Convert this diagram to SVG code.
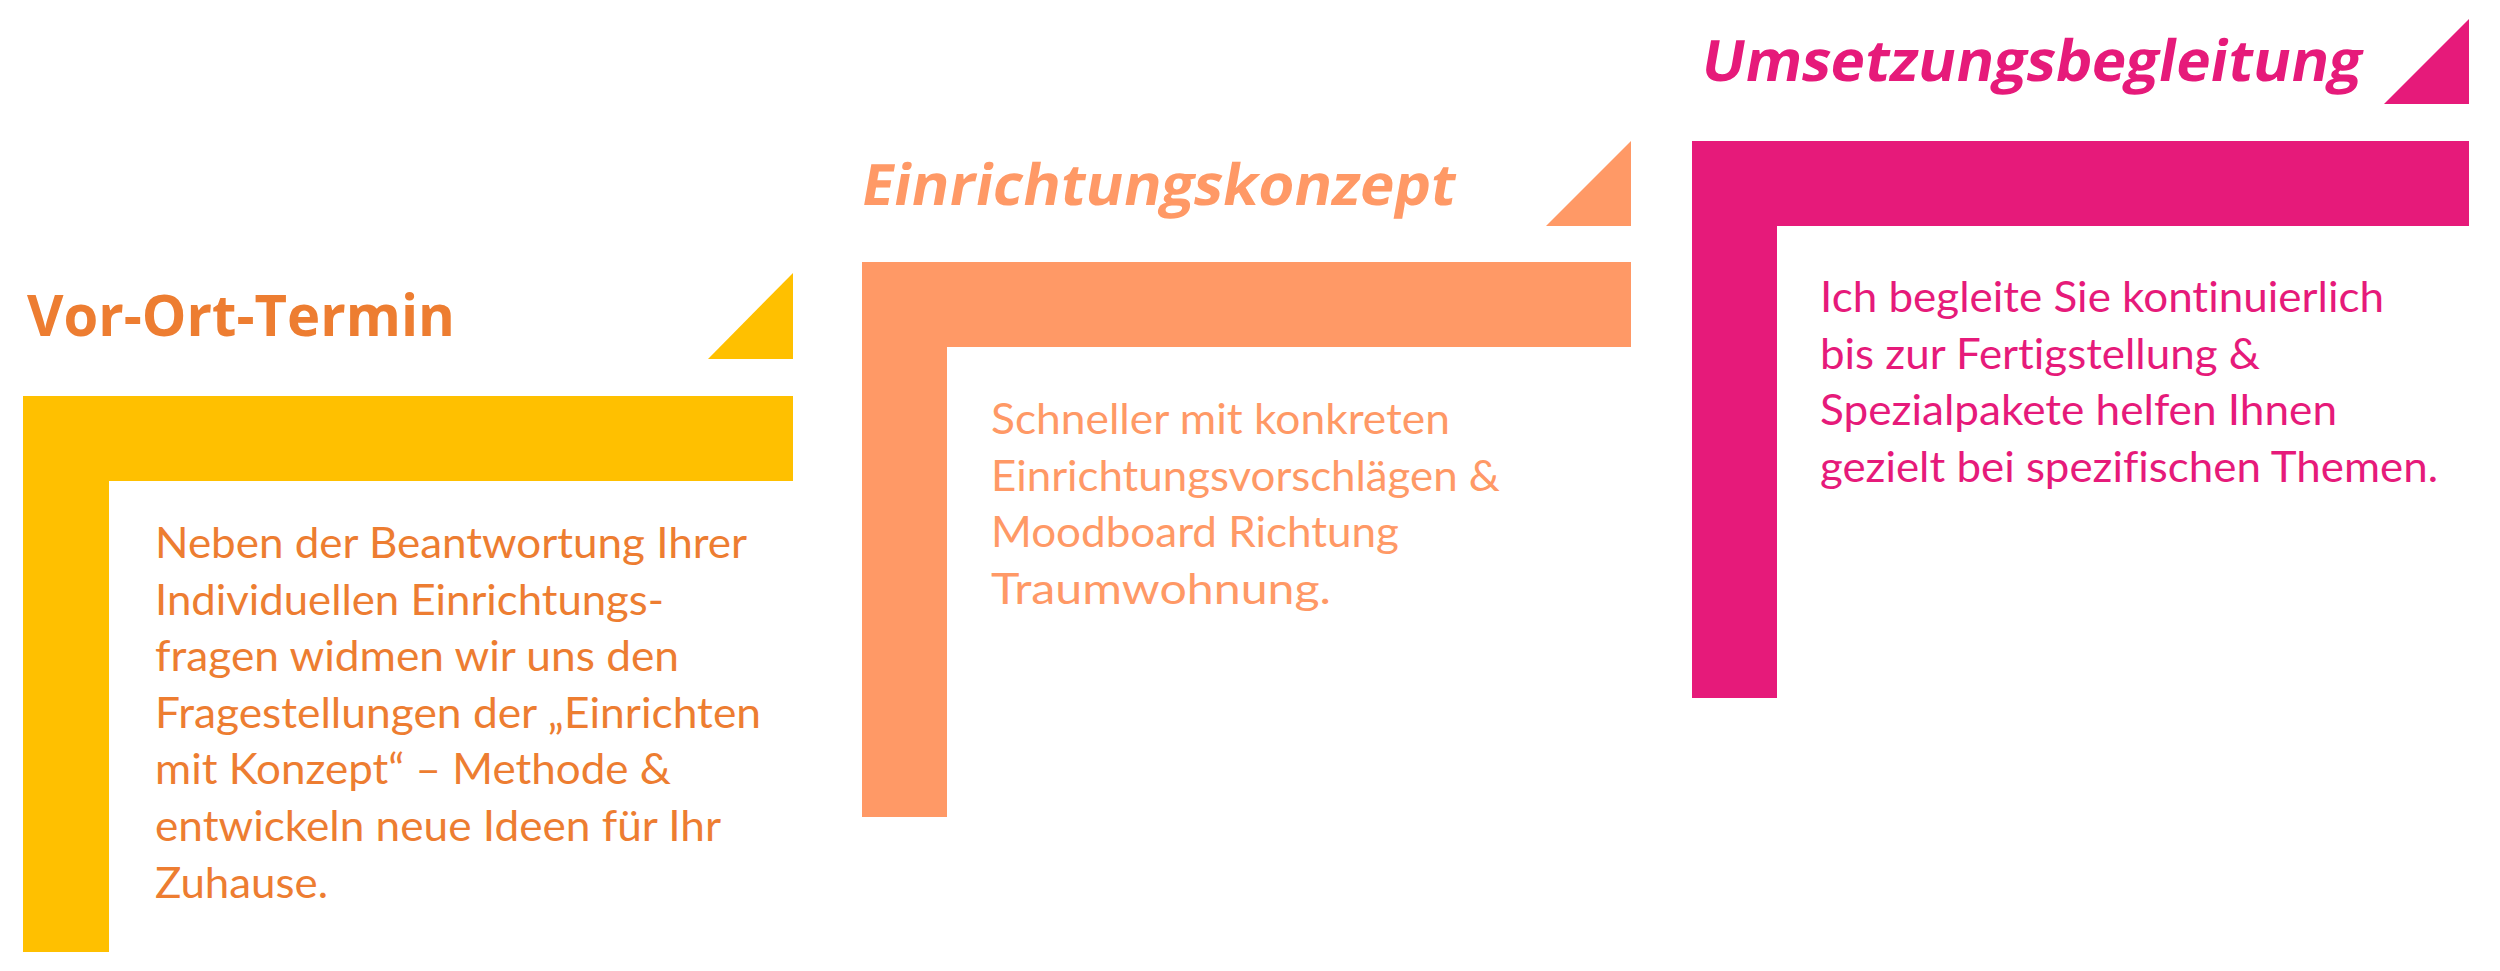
<svg xmlns="http://www.w3.org/2000/svg" width="2500" height="971" viewBox="0 0 2500 971">
<style>
.title{font-family:"Open Sans","Liberation Sans",sans-serif;font-weight:700;font-size:57px}
.body{font-family:Lato,"Open Sans","Liberation Sans",sans-serif;font-size:42px;font-variant-ligatures:none}
.c1{fill:#FFC000}.t1{fill:#ED7D31}
.c2{fill:#FF9966}
.c3{fill:#E61A7A}
</style>
<rect width="2500" height="971" fill="#FFFFFF"/>
<g id="step-vor-ort-termin">
<path class="c1" d="M23,396 H793 V481 H109 V952 H23 Z"/>
<polygon class="c1" points="708,359 793,359 793,273"/>
<text class="title t1" x="27" y="336" textLength="428" lengthAdjust="spacingAndGlyphs">Vor-Ort-Termin</text>
<g class="body t1">
<text x="155" y="558" textLength="592" lengthAdjust="spacingAndGlyphs">Neben der Beantwortung Ihrer</text>
<text x="155" y="614.6" textLength="509" lengthAdjust="spacingAndGlyphs">Individuellen Einrichtungs-</text>
<text x="155" y="671.2" textLength="524" lengthAdjust="spacingAndGlyphs">fragen widmen wir uns den</text>
<text x="155" y="727.8" textLength="606" lengthAdjust="spacingAndGlyphs">Fragestellungen der „Einrichten</text>
<text x="155" y="784.4" textLength="516" lengthAdjust="spacingAndGlyphs">mit Konzept“ – Methode &amp;</text>
<text x="155" y="841" textLength="566" lengthAdjust="spacingAndGlyphs">entwickeln neue Ideen für Ihr</text>
<text x="155" y="897.6" textLength="173" lengthAdjust="spacingAndGlyphs">Zuhause.</text>
</g>
</g>
<g id="step-einrichtungskonzept">
<path class="c2" d="M862,262 H1631 V347 H947 V817 H862 Z"/>
<polygon class="c2" points="1546,226 1631,226 1631,141"/>
<text class="title c2" transform="translate(859,205) skewX(-10)" x="0" y="0" textLength="594" lengthAdjust="spacingAndGlyphs">Einrichtungskonzept</text>
<g class="body c2">
<text x="991" y="434" textLength="459" lengthAdjust="spacingAndGlyphs">Schneller mit konkreten</text>
<text x="991" y="490.6" textLength="509" lengthAdjust="spacingAndGlyphs">Einrichtungsvorschlägen &amp;</text>
<text x="991" y="547.2" textLength="408" lengthAdjust="spacingAndGlyphs">Moodboard Richtung</text>
<text x="991" y="603.8" textLength="340" lengthAdjust="spacingAndGlyphs">Traumwohnung.</text>
</g>
</g>
<g id="step-umsetzungsbegleitung">
<path class="c3" d="M1692,141 H2469 V226 H1777 V698 H1692 Z"/>
<polygon class="c3" points="2384,104 2469,104 2469,19"/>
<text class="title c3" transform="translate(1699,81) skewX(-10)" x="0" y="0" textLength="660" lengthAdjust="spacingAndGlyphs">Umsetzungsbegleitung</text>
<g class="body c3">
<text x="1820" y="312" textLength="564" lengthAdjust="spacingAndGlyphs">Ich begleite Sie kontinuierlich</text>
<text x="1820" y="368.6" textLength="440" lengthAdjust="spacingAndGlyphs">bis zur Fertigstellung &amp;</text>
<text x="1820" y="425.2" textLength="517" lengthAdjust="spacingAndGlyphs">Spezialpakete helfen Ihnen</text>
<text x="1820" y="481.8" textLength="618" lengthAdjust="spacingAndGlyphs">gezielt bei spezifischen Themen.</text>
</g>
</g>
</svg>
